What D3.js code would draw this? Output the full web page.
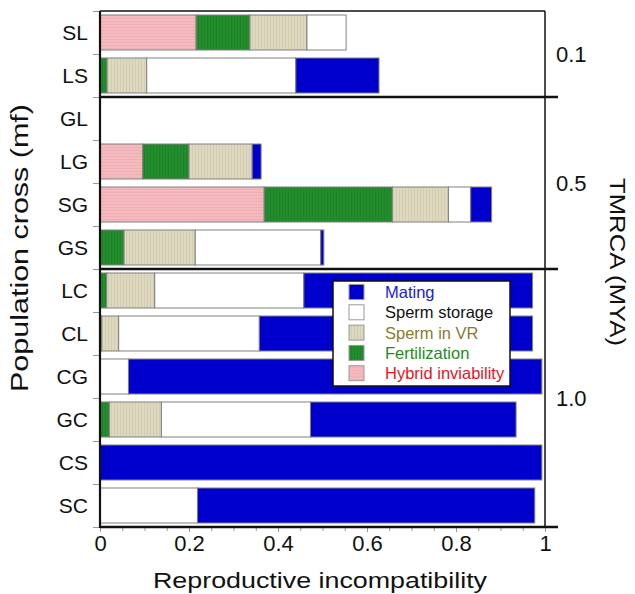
<html>
<head>
<meta charset="utf-8">
<script src="https://d3js.org/d3.v7.min.js"></script>
<style>
  body { margin: 0; background: #fff; }
  text { font-family: "Liberation Sans", Arial, sans-serif; }
</style>
</head>
<body>
<div id="chart"></div>
<script>
// population crosses, top to bottom
var crosses = ["SL", "LS", "GL", "LG", "SG", "GS", "LC", "CL", "CG", "GC", "CS", "SC"];

// barrier contributions (stacked left to right)
var hybrid    = [0.216, 0,     0, 0.096, 0.369, 0,     0,     0,     0,     0,     0,     0];
var fert      = [0.121, 0.016, 0, 0.104, 0.288, 0.054, 0.015, 0.004, 0,     0.021, 0,     0];
var spermVR   = [0.128, 0.089, 0, 0.142, 0.126, 0.160, 0.108, 0.038, 0,     0.117, 0,     0];
var storage   = [0.088, 0.335, 0, 0,     0.050, 0.282, 0.335, 0.316, 0.064, 0.335, 0,     0.219];
var mating    = [0,     0.187, 0, 0.020, 0.047, 0.007, 0.514, 0.614, 0.929, 0.462, 0.993, 0.758];

// TMRCA groups
var tmrcaLabels = ["0.1", "0.5", "1.0"];
var groupFirst  = ["SL", "GL", "LC"];
var groupLast   = ["LS", "GS", "SC"];

var xTicks = [0, 0.2, 0.4, 0.6, 0.8, 1];

var keys = ["hybrid", "fert", "spermVR", "storage", "mating"];
var legendNames = ["Mating", "Sperm storage", "Sperm in VR", "Fertilization", "Hybrid inviability"];
var legendKeys  = ["mating", "storage", "spermVR", "fert", "hybrid"];

var fills = {hybrid: "url(#pinkPat)", fert: "url(#greenPat)", spermVR: "url(#tanPat)", storage: "#ffffff", mating: "#0000cc"};
var textColors = {mating: "#1a1ae0", storage: "#111111", spermVR: "#8a7a2e", fert: "#1f8a22", hybrid: "#e8141e"};

var rows = crosses.map(function(c, i) {
  return {cross: c, hybrid: hybrid[i], fert: fert[i], spermVR: spermVR[i], storage: storage[i], mating: mating[i]};
});

var W = 635, H = 594;
var mLeft = 100, mRight = 545, mTop = 11, mBottom = 527;

var svg = d3.select("#chart").append("svg")
  .attr("width", W).attr("height", H);

// patterns for textured fills
var defs = svg.append("defs");
var p1 = defs.append("pattern").attr("id", "pinkPat").attr("patternUnits", "userSpaceOnUse").attr("width", 4).attr("height", 3);
p1.append("rect").attr("width", 4).attr("height", 3).attr("fill", "#f5babe");
p1.append("rect").attr("width", 4).attr("height", 1).attr("fill", "#efb0b5");
var p2 = defs.append("pattern").attr("id", "tanPat").attr("patternUnits", "userSpaceOnUse").attr("width", 3).attr("height", 4);
p2.append("rect").attr("width", 3).attr("height", 4).attr("fill", "#ddd8bf");
p2.append("rect").attr("width", 1).attr("height", 4).attr("fill", "#d3cdb0");
var p3 = defs.append("pattern").attr("id", "greenPat").attr("patternUnits", "userSpaceOnUse").attr("width", 3).attr("height", 4);
p3.append("rect").attr("width", 3).attr("height", 4).attr("fill", "#238c2c");
p3.append("rect").attr("width", 1).attr("height", 4).attr("fill", "#1e8428");

var x = d3.scaleLinear().domain([0, 1]).range([mLeft, mRight]);
var y = d3.scaleBand().domain(crosses).range([mTop, mBottom])
  .paddingInner(0.186).paddingOuter(0.093);
var rowScale = d3.scaleLinear().domain([0, crosses.length]).range([mTop, mBottom]);

var stack = d3.stack().keys(keys)(rows);

// bars
svg.append("g").selectAll("g")
  .data(stack)
  .enter().append("g")
    .attr("fill", function(d) { return fills[d.key]; })
  .selectAll("rect")
  .data(function(d) { return d.filter(function(s) { return s[1] - s[0] > 0; }); })
  .enter().append("rect")
    .attr("x", function(d) { return x(d[0]); })
    .attr("y", function(d) { return y(d.data.cross); })
    .attr("width", function(d) { return x(d[1]) - x(d[0]); })
    .attr("height", y.bandwidth())
    .attr("stroke", "#808080")
    .attr("stroke-width", 1);

// left row boundary ticks
svg.append("g")
  .attr("transform", "translate(" + mLeft + ",0)")
  .call(d3.axisLeft(rowScale).tickValues(d3.range(crosses.length + 1)).tickFormat("").tickSize(7))
  .call(function(g) { g.select(".domain").remove(); g.selectAll("line").attr("stroke", "#999"); });

// row labels
svg.append("g").selectAll("text")
  .data(crosses)
  .enter().append("text")
    .attr("x", 88)
    .attr("y", function(d) { return y(d) + y.bandwidth() / 2; })
    .attr("dy", "0.36em")
    .attr("text-anchor", "end")
    .attr("font-size", 21)
    .attr("fill", "#111")
    .text(function(d) { return d; });

// x axis minor and major ticks
svg.append("g")
  .attr("transform", "translate(0," + mBottom + ")")
  .call(d3.axisBottom(x).tickValues(d3.range(0, 1.0001, 0.05)).tickFormat("").tickSize(4))
  .call(function(g) { g.select(".domain").remove(); g.selectAll("line").attr("stroke", "#999"); });
svg.append("g")
  .attr("transform", "translate(0," + mBottom + ")")
  .call(d3.axisBottom(x).tickValues(xTicks).tickFormat(d3.format("~g")).tickSize(5))
  .call(function(g) {
    g.select(".domain").remove();
    g.selectAll("line").attr("stroke", "#999");
    g.selectAll("text").attr("font-size", 22).attr("fill", "#111").attr("y", 8)
      .style("font-family", "'Liberation Sans', Arial, sans-serif");
  });

// frame lines
svg.append("line").attr("x1", mLeft).attr("x2", mRight).attr("y1", mTop).attr("y2", mTop)
  .attr("stroke", "#111").attr("stroke-width", 1.5);
svg.append("line").attr("x1", mRight).attr("x2", mRight).attr("y1", mTop).attr("y2", mBottom)
  .attr("stroke", "#111").attr("stroke-width", 1.5);
svg.append("line").attr("x1", mLeft).attr("x2", mLeft).attr("y1", mTop).attr("y2", mBottom + 1)
  .attr("stroke", "#111").attr("stroke-width", 2.2);
svg.append("line").attr("x1", mLeft).attr("x2", 558).attr("y1", mBottom).attr("y2", mBottom)
  .attr("stroke", "#111").attr("stroke-width", 2.5);

// group separators and TMRCA labels
var firstIdx = groupFirst.map(function(c) { return crosses.indexOf(c); });
var lastIdx = groupLast.map(function(c) { return crosses.indexOf(c); });
svg.append("g").selectAll("line")
  .data(firstIdx.slice(1))
  .enter().append("line")
    .attr("x1", mLeft).attr("x2", 558)
    .attr("y1", function(d) { return rowScale(d); })
    .attr("y2", function(d) { return rowScale(d); })
    .attr("stroke", "#111").attr("stroke-width", 2.5);

svg.append("g").selectAll("text")
  .data(tmrcaLabels)
  .enter().append("text")
    .attr("x", 556)
    .attr("y", function(d, i) { return (rowScale(firstIdx[i]) + rowScale(lastIdx[i] + 1)) / 2; })
    .attr("dy", "0.36em")
    .attr("font-size", 22)
    .attr("fill", "#111")
    .text(function(d) { return d; });

// axis titles
svg.append("text")
  .attr("transform", "translate(28,248) rotate(-90)")
  .attr("text-anchor", "middle")
  .attr("font-size", 23)
  .attr("textLength", 288).attr("lengthAdjust", "spacingAndGlyphs")
  .attr("fill", "#111")
  .text("Population cross (mf)");

svg.append("text")
  .attr("x", 320).attr("y", 588)
  .attr("text-anchor", "middle")
  .attr("font-size", 22)
  .attr("textLength", 334).attr("lengthAdjust", "spacingAndGlyphs")
  .attr("fill", "#111")
  .text("Reproductive incompatibility");

svg.append("text")
  .attr("transform", "translate(610,262) rotate(90)")
  .attr("text-anchor", "middle")
  .attr("font-size", 22)
  .attr("textLength", 168).attr("lengthAdjust", "spacingAndGlyphs")
  .attr("fill", "#111")
  .text("TMRCA (MYA)");

// legend
var legend = svg.append("g").attr("transform", "translate(333,281)");
legend.append("rect")
  .attr("width", 177).attr("height", 105)
  .attr("fill", "#fff").attr("stroke", "#111").attr("stroke-width", 1.5);
var item = legend.selectAll("g")
  .data(legendKeys)
  .enter().append("g")
    .attr("transform", function(d, i) { return "translate(0," + (11 + i * 20.3) + ")"; });
item.append("rect")
  .attr("x", 16).attr("y", -7.5)
  .attr("width", 15).attr("height", 15)
  .attr("fill", function(d) { return fills[d]; })
  .attr("stroke", "#999").attr("stroke-width", 1);
item.append("text")
  .attr("x", 52).attr("dy", "0.36em")
  .attr("font-size", 16.5)
  .attr("fill", function(d) { return textColors[d]; })
  .text(function(d, i) { return legendNames[i]; });
</script>
</body>
</html>
